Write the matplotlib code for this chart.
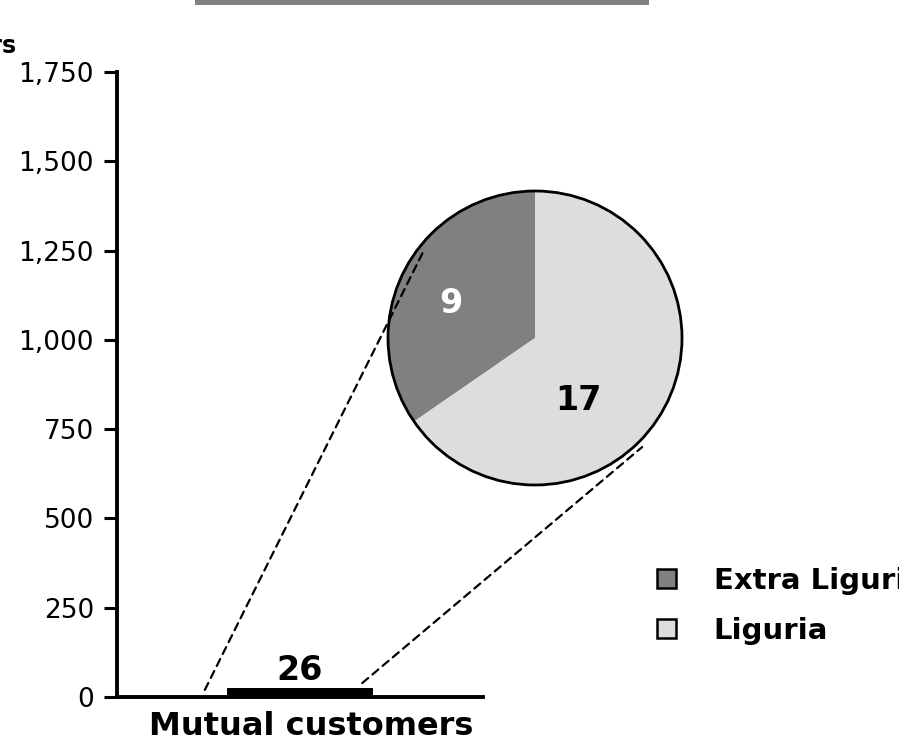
import matplotlib.pyplot as plt
from matplotlib.patches import Patch, Circle, Rectangle, ConnectionPatch
from matplotlib.ticker import StrMethodFormatter
import numpy as np

# data
bar_category = ["Mutual customers"]
bar_values = [26]
pie_labels = ["Extra Liguria", "Liguria"]
pie_values = [9, 17]
pie_colors = ["#808080", "#dddddd"]
y_ticks = [0, 250, 500, 750, 1000, 1250, 1500, 1750]

W, H = 899, 745
fig = plt.figure(figsize=(W / 100, H / 100), dpi=100)

# main bar axes
ax = fig.add_axes([117 / W, 48 / H, 366 / W, 625 / H])
ax.bar([0], bar_values, width=0.4, color="black")
ax.set_xlim(-0.5, 0.5)
ax.set_ylim(0, 1750)
ax.set_yticks(y_ticks)
ax.yaxis.set_major_formatter(StrMethodFormatter("{x:,.0f}"))
ax.set_xticks([0.03])
ax.set_xticklabels(bar_category, fontsize=23, fontweight="bold")
ax.tick_params(axis="x", length=0, pad=10)
ax.tick_params(axis="y", labelsize=19, length=9.5, width=2.2, pad=7)
for s in ["top", "right"]:
    ax.spines[s].set_visible(False)
for s in ["left", "bottom"]:
    ax.spines[s].set_linewidth(2.8)
ax.text(0, bar_values[0] + 2, str(bar_values[0]), ha="center", va="bottom",
        fontsize=24, fontweight="bold")

fig.text(16 / W, (H - 46) / H, "Number of customers", ha="right", va="center",
         fontsize=17, fontweight="bold")

# pie inset
r_pad = 1.05
pw = 2 * 147 * r_pad
pax = fig.add_axes([(535 - pw / 2) / W, (H - 338 - pw / 2) / H, pw / W, pw / H])
wedges, _ = pax.pie(pie_values, colors=pie_colors, startangle=90,
                    counterclock=True, wedgeprops=dict(linewidth=0))
pax.add_patch(Circle((0, 0), 1, fill=False, lw=2, ec="black"))
pax.set_xlim(-r_pad, r_pad)
pax.set_ylim(-r_pad, r_pad)
pax.set_aspect("equal")
pax.axis("off")

# value labels inside the pie (angle deg, radius)
label_pos = [(158, 0.62), (-55, 0.52)]
label_colors = ["white", "black"]
for v, (a, r), c in zip(pie_values, label_pos, label_colors):
    pax.text(r * np.cos(np.radians(a)), r * np.sin(np.radians(a)), str(v),
             ha="center", va="center", fontsize=24, fontweight="bold", color=c)

# dashed connectors from the bar to the pie
conn = [((-0.26, 20), (142.5, 0.96)), ((0.17, 39), (-45.5, 1.04))]
for (xa, ya), (a, r) in conn:
    cp = ConnectionPatch(xyA=(xa, ya), coordsA=ax.transData,
                         xyB=(r * np.cos(np.radians(a)), r * np.sin(np.radians(a))),
                         coordsB=pax.transData, linestyle=(0, (3.5, 2.5)),
                         lw=1.6, color="black")
    fig.add_artist(cp)

# legend
handles = [Patch(facecolor=c, edgecolor="black", lw=1.8) for c in pie_colors]
fig.legend(handles, pie_labels, loc="upper left",
           bbox_to_anchor=(657 / W, (H - 567) / H), frameon=False,
           prop=dict(size=21, weight="bold"), handlelength=0.65,
           handleheight=0.65, handletextpad=1.3, labelspacing=0.75,
           borderpad=0, borderaxespad=0)

# cut-off title box at the top
fig.add_artist(Rectangle((195 / W, (H - 5) / H), 454 / W, 6 / H,
                         transform=fig.transFigure, color="#808080", lw=0))

fig.savefig("out.png", dpi=100)
